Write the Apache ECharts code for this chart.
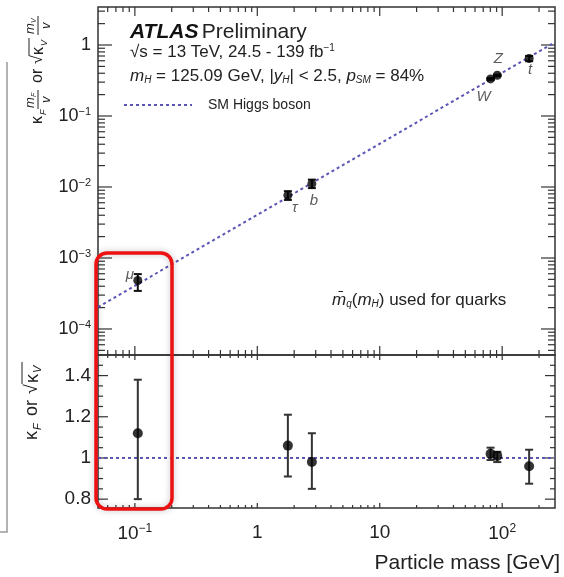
<!DOCTYPE html>
<html>
<head>
<meta charset="utf-8">
<script src="https://cdn.jsdelivr.net/npm/echarts@6/dist/echarts.min.js"></script>
<style>html,body{margin:0;padding:0;background:#fff}#container{width:564px;height:577px}</style>
</head>
<body>
<div id="container"></div>
<script>
// particle data (ratio panel values)
var particles = ['μ', 'τ', 'b', 'W', 'Z', 't'];
var masses = [0.1057, 1.777, 2.79, 80.38, 91.19, 166];
var kappa = [1.12, 1.06, 0.98, 1.02, 1.01, 0.96];
var kappaHi = [1.38, 1.21, 1.12, 1.05, 1.03, 1.04];
var kappaLo = [0.80, 0.91, 0.85, 0.99, 0.98, 0.875];
var vev = 246;
var massRange = [0.05, 270];
var topRange = [4.3e-5, 3.43];
var ratioRange = [0.757, 1.5];
var xTickLabels = [0.1, 1, 10, 100];
var topTickLabels = [1e-4, 1e-3, 1e-2, 1e-1, 1];
var ratioTickLabels = [0.8, 1, 1.2, 1.4];

var dom = document.getElementById('container');
var myChart = echarts.init(dom);

var FONT = '"Liberation Sans", Arial, sans-serif';
var INK = '#222';
var SMCOL = '#5a55b5';

// top panel values: kappa * m / v
var topPts = [], topErr = [], ratioPts = [], ratioErr = [];
var labelOffsets = {'μ': [-8, -6], 'τ': [7, 13], 'b': [2, 17], 'W': [-7, 18], 'Z': [1, -16], 't': [1, 11]};
for (var i = 0; i < particles.length; i++) {
    var m = masses[i];
    topPts.push({
        value: [m, kappa[i] * m / vev],
        label: {show: true, formatter: particles[i], position: 'inside', offset: labelOffsets[particles[i]]}
    });
    topErr.push([m, kappa[i] * m / vev, kappaLo[i] * m / vev, kappaHi[i] * m / vev]);
    ratioPts.push([m, kappa[i]]);
    ratioErr.push([m, kappa[i], kappaLo[i], kappaHi[i]]);
}

// ROOT style ticks (x ticks: [v, yRef, 0, major], y ticks: [xRef, v, 1, major])
function logTicks(range, isY, ref) {
    var out = [];
    for (var d = -6; d <= 3; d++) {
        for (var k = 1; k <= 9; k++) {
            var v = k * Math.pow(10, d);
            if (v > range[0] * 1.001 && v < range[1] * 0.999) {
                out.push(isY ? [ref, v, 1, k === 1 ? 1 : 0] : [v, ref, 0, k === 1 ? 1 : 0]);
            }
        }
    }
    return out;
}
var topTicks = logTicks(massRange, false, 1e-2).concat(logTicks(topRange, true, 1));
var ratioTicks = logTicks(massRange, false, 1);
for (var j = 16; j <= 29; j++) {
    ratioTicks.push([1, j * 0.05, 1, j % 4 === 0 ? 1 : 0]);
}

function tickRenderer(yMaj, yMin, xMaj, xMin) {
    return function (params, api) {
        var cs = params.coordSys;
        var p = api.coord([api.value(0), api.value(1)]);
        var isY = api.value(2) === 1, major = api.value(3) === 1;
        var st = {stroke: '#333', lineWidth: 1.2};
        var ch = [];
        if (isY) {
            var L = major ? yMaj : yMin;
            ch.push({type: 'line', shape: {x1: cs.x, y1: p[1], x2: cs.x + L, y2: p[1]}, style: st});
            ch.push({type: 'line', shape: {x1: cs.x + cs.width, y1: p[1], x2: cs.x + cs.width - L, y2: p[1]}, style: st});
        } else {
            var H = major ? xMaj : xMin;
            ch.push({type: 'line', shape: {x1: p[0], y1: cs.y, x2: p[0], y2: cs.y + H}, style: st});
            ch.push({type: 'line', shape: {x1: p[0], y1: cs.y + cs.height, x2: p[0], y2: cs.y + cs.height - H}, style: st});
        }
        return {type: 'group', children: ch};
    };
}

function errRenderer(color) {
    return function (params, api) {
        var lo = api.coord([api.value(0), api.value(2)]);
        var hi = api.coord([api.value(0), api.value(3)]);
        var st = {stroke: color, lineWidth: 2};
        return {type: 'group', children: [
            {type: 'line', shape: {x1: lo[0], y1: lo[1], x2: hi[0], y2: hi[1]}, style: st},
            {type: 'line', shape: {x1: lo[0] - 4, y1: lo[1], x2: lo[0] + 4, y2: lo[1]}, style: st},
            {type: 'line', shape: {x1: hi[0] - 4, y1: hi[1], x2: hi[0] + 4, y2: hi[1]}, style: st}
        ]};
    };
}

function powLabel(v) {
    var e = Math.round(Math.log10(v));
    if (e === 0) return '1';
    if (e === 1) return '10';
    return '{b|10}{s|' + (e < 0 ? '−' : '') + Math.abs(e) + '}';
}
function richFor(size) {
    return {
        b: {fontSize: size, fontFamily: FONT, color: INK},
        s: {fontSize: Math.round(size * 0.62), fontFamily: FONT, color: INK, verticalAlign: 'top', padding: [0, 0, 9, 0]}
    };
}

// small helper for text pieces of the rotated y title
function t(txt, x, y, size, italic) {
    return {type: 'text', x: x, y: y, style: {text: txt, fontSize: size, fontFamily: FONT, fill: INK,
        fontStyle: italic ? 'italic' : 'normal', verticalAlign: 'middle'}};
}
function bar(x1, x2, y) {
    return {type: 'line', shape: {x1: x1, y1: y, x2: x2, y2: y}, style: {stroke: INK, lineWidth: 1}};
}
var yTitleTop = {
    type: 'group', x: 38, y: 124, rotation: Math.PI / 2,
    children: [
        t('κ', 0, 0, 16), t('F', 9, 5, 9, true),
        t('m', 16, -8, 13, true), t('F', 27, -4, 7, true), bar(15, 34, 0), t('v', 21, 8, 13, true),
        t('or', 41, 0, 16),
        t('√', 60, 0, 16), t('κ', 69, 1, 16), t('V', 78, 6, 9, true), bar(68, 86, -9),
        t('m', 90, -8, 13, true), t('V', 101, -4, 7, true), bar(89, 108, 0), t('v', 95, 8, 13, true)
    ]
};
var yTitleRatio = {
    type: 'group', x: 32, y: 440, rotation: Math.PI / 2,
    children: [
        t('κ', 0, 0, 18), t('F', 10, 6, 11, true),
        t('or', 24, 0, 18),
        t('√', 46, 0, 18), t('κ', 57, 1, 18), t('V', 67, 6, 11, true), bar(56, 78, -10)
    ]
};

var hiddenLine = {show: false};

option = {
    animation: false,
    textStyle: {fontFamily: FONT},
    grid: [
        {left: 98, top: 7, width: 457, height: 348, show: true, borderColor: '#333', borderWidth: 1.5, backgroundColor: 'transparent'},
        {left: 98, top: 355, width: 457, height: 153, show: true, borderColor: '#333', borderWidth: 1.5, backgroundColor: 'transparent'}
    ],
    xAxis: [
        {type: 'log', gridIndex: 0, min: massRange[0], max: massRange[1], axisLine: hiddenLine,
            axisTick: {show: false}, splitLine: {show: false}, axisLabel: {show: false}},
        {type: 'log', gridIndex: 1, min: massRange[0], max: massRange[1], axisLine: hiddenLine,
            axisTick: {show: false}, splitLine: {show: false},
            axisLabel: {customValues: xTickLabels, formatter: powLabel, rich: richFor(19),
                fontSize: 19, color: INK, margin: 15}}
    ],
    yAxis: [
        {type: 'log', gridIndex: 0, min: topRange[0], max: topRange[1], axisLine: hiddenLine,
            axisTick: {show: false}, splitLine: {show: false},
            axisLabel: {customValues: topTickLabels, formatter: powLabel, rich: richFor(18),
                fontSize: 18, color: INK, margin: 7}},
        {type: 'value', gridIndex: 1, min: ratioRange[0], max: ratioRange[1], axisLine: hiddenLine,
            axisTick: {show: false}, splitLine: {show: false},
            axisLabel: {customValues: ratioTickLabels, fontSize: 19, color: INK, margin: 7}}
    ],
    series: [
        {type: 'custom', xAxisIndex: 0, yAxisIndex: 0, silent: true, data: topTicks, renderItem: tickRenderer(14, 7, 9, 5), z: 1},
        {type: 'custom', xAxisIndex: 1, yAxisIndex: 1, silent: true, data: ratioTicks, renderItem: tickRenderer(10, 5, 5, 3), z: 1},
        {type: 'line', xAxisIndex: 0, yAxisIndex: 0, symbol: 'none', silent: true,
            data: massRange.map(function (x) { return [x, x / vev]; }),
            lineStyle: {color: SMCOL, width: 2, type: [3, 3]}, z: 2},
        {type: 'line', xAxisIndex: 1, yAxisIndex: 1, symbol: 'none', silent: true,
            data: massRange.map(function (x) { return [x, 1]; }),
            lineStyle: {color: SMCOL, width: 2, type: [3, 3]}, z: 2},
        {type: 'custom', xAxisIndex: 0, yAxisIndex: 0, silent: true, data: topErr, renderItem: errRenderer('#111'), z: 3},
        {type: 'custom', xAxisIndex: 1, yAxisIndex: 1, silent: true, data: ratioErr, renderItem: errRenderer('#333'), z: 3},
        {type: 'scatter', xAxisIndex: 0, yAxisIndex: 0, symbol: 'circle', symbolSize: 9, data: topPts,
            itemStyle: {color: '#000'}, z: 4,
            label: {fontSize: 15, fontStyle: 'italic', color: '#333', fontFamily: FONT}},
        {type: 'scatter', xAxisIndex: 1, yAxisIndex: 1, symbol: 'circle', symbolSize: 10, data: ratioPts,
            itemStyle: {color: '#000'}, z: 4}
    ],
    graphic: [
        // piece of the neighbouring figure at the left edge
        {type: 'polyline', shape: {points: [[7, 62], [7, 532], [0, 532]]}, style: {stroke: '#999', lineWidth: 1.5, fill: null}},
        yTitleTop,
        yTitleRatio,
        {type: 'text', x: 130, y: 32, style: {
            text: '{a|ATLAS} {p|Preliminary}', verticalAlign: 'middle',
            rich: {a: {fontSize: 21, fontWeight: 'bold', fontStyle: 'italic', fontFamily: FONT, fill: '#111'},
                   p: {fontSize: 21, fontFamily: FONT, fill: '#222'}}}},
        {type: 'text', x: 130, y: 52, style: {
            text: '{t|√s = 13 TeV, 24.5 - 139 fb}{s|−1}', verticalAlign: 'middle',
            rich: {t: {fontSize: 17, fontFamily: FONT, fill: '#222'},
                   s: {fontSize: 10, fontFamily: FONT, fill: '#222', verticalAlign: 'top', padding: [0, 0, 8, 0]}}}},
        {type: 'text', x: 130, y: 76, style: {
            text: '{i|m}{s|H}{t| = 125.09 GeV, |}{i|y}{s|H}{t|| < 2.5, }{i|p}{s|SM}{t| = 84%}', verticalAlign: 'middle',
            rich: {t: {fontSize: 17, fontFamily: FONT, fill: '#222'},
                   i: {fontSize: 17, fontStyle: 'italic', fontFamily: FONT, fill: '#222'},
                   s: {fontSize: 10, fontStyle: 'italic', fontFamily: FONT, fill: '#222', verticalAlign: 'bottom', padding: [8, 0, 0, 0]}}}},
        {type: 'line', shape: {x1: 124, y1: 105, x2: 192, y2: 105}, style: {stroke: SMCOL, lineWidth: 2, lineDash: [3, 3]}},
        {type: 'text', x: 208, y: 105, style: {text: 'SM Higgs boson', fontSize: 14, fontFamily: FONT, fill: '#222', verticalAlign: 'middle'}},
        {type: 'text', x: 332, y: 300, style: {
            text: '{o|m̄}{s|q}{t|(}{i|m}{s|H}{t|) used for quarks}', verticalAlign: 'middle',
            rich: {t: {fontSize: 17, fontFamily: FONT, fill: '#222'},
                   o: {fontSize: 17, fontStyle: 'italic', fontFamily: FONT, fill: '#222'},
                   i: {fontSize: 17, fontStyle: 'italic', fontFamily: FONT, fill: '#222'},
                   s: {fontSize: 10, fontStyle: 'italic', fontFamily: FONT, fill: '#222', verticalAlign: 'bottom', padding: [8, 0, 0, 0]}}}},
        {type: 'text', x: 560, y: 563, style: {text: 'Particle mass [GeV]', fontSize: 21, fontFamily: FONT, fill: '#222', align: 'right', verticalAlign: 'middle'}},
        // red highlight box round the muon
        {type: 'rect', shape: {x: 96, y: 253, width: 76, height: 256, r: 11}, z: 100,
            style: {fill: null, stroke: '#ee1111', lineWidth: 3.5, shadowBlur: 6, shadowColor: 'rgba(0,0,0,0.25)'}}
    ]
};

myChart.setOption(option, true);
</script>
</body>
</html>
